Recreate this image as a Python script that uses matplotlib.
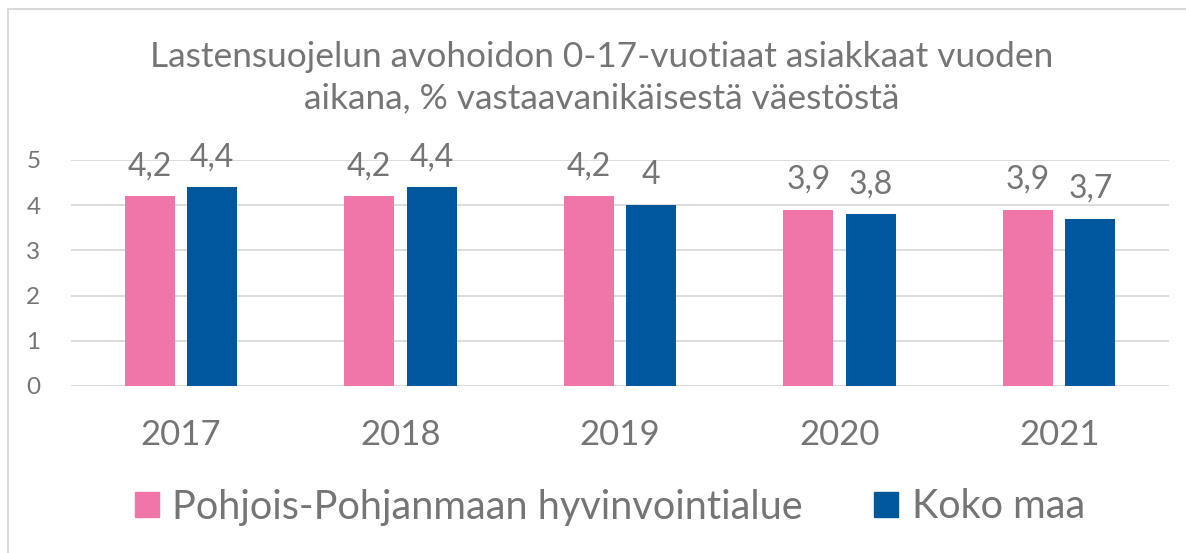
import numpy as np
from matplotlib import pyplot as plt
from matplotlib.patches import Rectangle, Patch

years = ["2017", "2018", "2019", "2020", "2021"]
pohjois = [4.2, 4.2, 4.2, 3.9, 3.9]
koko_maa = [4.4, 4.4, 4.0, 3.8, 3.7]
labels_pohjois = ["4,2", "4,2", "4,2", "3,9", "3,9"]
labels_koko = ["4,4", "4,4", "4", "3,8", "3,7"]
series_names = ["Pohjois-Pohjanmaan hyvinvointialue", "Koko maa"]

PINK = "#F075A8"
BLUE = "#01579B"
TEXT = "#757575"
GRID = "#D9D9D9"

plt.rcParams["font.family"] = ["Lato", "DejaVu Sans"]

fig = plt.figure(figsize=(11.86, 5.53), dpi=100)
ax = fig.add_axes([71 / 1186, 1 - 386 / 553, 1098 / 1186, 226 / 553])

# outer chart border (Excel style)
fig.patches.append(Rectangle((8 / 1186, -0.1), 1.2, 1.1 - 9 / 553, transform=fig.transFigure,
                             fill=False, edgecolor=GRID, linewidth=1.5))

x = np.arange(len(years))
w = 0.228
off = 0.142
b1 = ax.bar(x - off, pohjois, w, color=PINK, zorder=3)
b2 = ax.bar(x + off, koko_maa, w, color=BLUE, zorder=3)

for bars, labs in ((b1, labels_pohjois), (b2, labels_koko)):
    for rect, lab in zip(bars, labs):
        ax.annotate(lab, (rect.get_x() + rect.get_width() / 2, rect.get_height()),
                    xytext=(0, 15), textcoords="offset points", ha="center", va="baseline",
                    fontsize=23, color=TEXT)

ax.set_xlim(-0.5, len(years) - 0.5)
ax.set_ylim(0, 5)
ax.set_yticks(range(6))
ax.set_xticks(x)
ax.set_xticklabels(years)
ax.yaxis.grid(True, color=GRID, linewidth=1.3, zorder=0)
ax.set_axisbelow(True)
for s in ax.spines.values():
    s.set_visible(False)
ax.tick_params(axis="y", length=0, pad=22, labelsize=17.5, labelcolor=TEXT)
ax.tick_params(axis="x", length=0, pad=24, labelsize=25, labelcolor=TEXT)

fig.text(602 / 1186, 1 - 78 / 553,
         "Lastensuojelun avohoidon 0-17-vuotiaat asiakkaat vuoden\naikana, % vastaavanikäisestä väestöstä",
         ha="center", va="center", fontsize=25.4, color=TEXT, linespacing=1.35)

handles = [Patch(color=PINK), Patch(color=BLUE)]
fig.legend(handles, series_names, loc="center", bbox_to_anchor=(610 / 1186, 1 - 507 / 553),
           ncol=2, frameon=False, fontsize=28.5, labelcolor=TEXT,
           handlelength=0.61, handleheight=0.61, handletextpad=0.33, columnspacing=1.8)

plt.savefig("out.png", dpi=100)
plt.close()
